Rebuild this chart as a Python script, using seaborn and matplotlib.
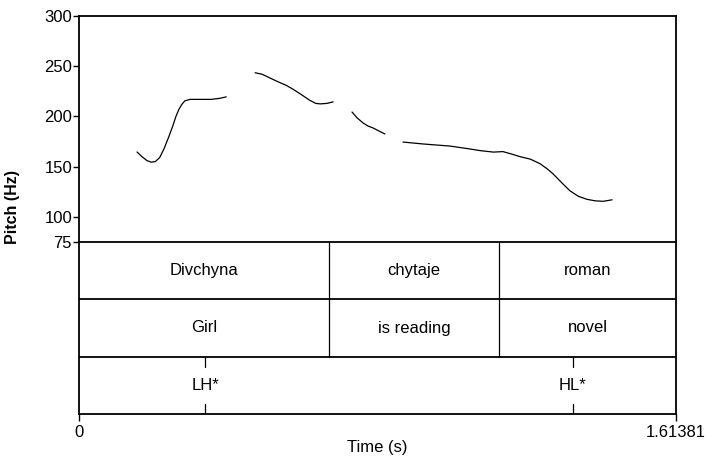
import numpy as np
import pandas as pd
import matplotlib
matplotlib.use("Agg")
import matplotlib.pyplot as plt
import seaborn as sns

sns.set_theme(style="white")
plt.rcParams['font.family'] = ['Liberation Sans', 'DejaVu Sans']
plt.rcParams['text.color'] = 'black'
plt.rcParams['xtick.color'] = 'black'
plt.rcParams['ytick.color'] = 'black'
plt.rcParams['axes.labelcolor'] = 'black'

T_END = 1.61381

# pitch contour segments (time s, Hz)
seg1_t = [0.157, 0.170, 0.184, 0.195, 0.206, 0.218, 0.230, 0.243, 0.254, 0.262, 0.270, 0.278, 0.286, 0.300, 0.327, 0.357, 0.380, 0.398]
seg1_hz = [164.6, 160.0, 156.0, 154.5, 155.0, 159.0, 168.0, 180.0, 191.0, 200.0, 207.0, 212.0, 215.5, 217.0, 217.0, 217.0, 218.0, 219.5]
seg2_t = [0.476, 0.495, 0.515, 0.535, 0.560, 0.579, 0.600, 0.624, 0.640, 0.652, 0.670, 0.687]
seg2_hz = [243.5, 242.0, 238.5, 235.0, 231.0, 227.0, 222.0, 216.0, 213.0, 212.5, 213.0, 214.5]
seg3_t = [0.738, 0.752, 0.768, 0.781, 0.795, 0.811, 0.827]
seg3_hz = [204.4, 198.5, 193.5, 190.5, 188.5, 185.5, 182.5]
seg4_t = [0.876, 0.930, 1.003, 1.050, 1.084, 1.120, 1.146, 1.170, 1.192, 1.220, 1.246, 1.265, 1.281, 1.305, 1.327, 1.350, 1.373, 1.395, 1.417, 1.441]
seg4_hz = [174.5, 172.6, 170.5, 168.0, 166.0, 164.5, 165.0, 162.5, 160.0, 157.5, 153.0, 148.0, 143.0, 134.0, 126.0, 120.5, 117.5, 116.0, 115.5, 117.0]

# tiers
tier1_labels = ["Divchyna", "chytaje", "roman"]
tier2_labels = ["Girl", "is reading", "novel"]
bounds = [0.0, 0.676, 1.135, T_END]
tones = ["LH*", "HL*"]
tone_t = [0.341, 1.335]

y_ticks = [75, 100, 150, 200, 250, 300]

rows = []
for i, (ts, hs) in enumerate([(seg1_t, seg1_hz), (seg2_t, seg2_hz), (seg3_t, seg3_hz), (seg4_t, seg4_hz)]):
    for t, h in zip(ts, hs):
        rows.append({"time": t, "hz": h, "seg": i})
df = pd.DataFrame(rows)

fig = plt.figure(figsize=(7.06, 4.59), dpi=100)
W, H = 706, 459
left, right = 79 / W, 676 / W
ax = fig.add_axes([left, 1 - 242 / H, right - left, (242 - 16) / H])
axt = fig.add_axes([left, 1 - 414 / H, right - left, (414 - 242) / H])

sns.lineplot(data=df, x="time", y="hz", units="seg", estimator=None,
             color="black", lw=0.9, ax=ax, sort=False)
ax.set_xlim(0, T_END)
ax.set_ylim(75, 300)
ax.set_yticks(y_ticks)
ax.set_yticklabels([str(v) for v in y_ticks])
ax.set_xticks([])
ax.set_xlabel("")
ax.set_ylabel("Pitch (Hz)", fontsize=11.5, fontweight="bold")
ax.yaxis.set_label_coords((19.5 - 79) / 597, (242 - 207) / 226)
ax.tick_params(axis="y", direction="out", length=4, width=1, labelsize=12, pad=1, left=True)
for s in ax.spines.values():
    s.set_linewidth(1.3)
    s.set_color("black")
ax.spines["bottom"].set_visible(False)

# tiers
axt.set_xlim(0, T_END)
axt.set_ylim(0, 3)
for y in [1, 2]:
    axt.axhline(y, color="black", lw=1.3)
for b in bounds[1:-1]:
    axt.plot([b, b], [1, 3], color="black", lw=0.9)
for j in range(3):
    c = (bounds[j] + bounds[j + 1]) / 2
    axt.text(c, 2.5, tier1_labels[j], ha="center", va="center", fontsize=12)
    axt.text(c, 1.5, tier2_labels[j], ha="center", va="center", fontsize=12)
for lab, t in zip(tones, tone_t):
    axt.plot([t, t], [0.82, 1.0], color="black", lw=0.9)
    axt.plot([t, t], [0.0, 0.18], color="black", lw=0.9)
    axt.text(t, 0.5, lab, ha="center", va="center", fontsize=12)
axt.set_yticks([])
axt.set_xticks([0, T_END])
axt.set_xticklabels(["0", "1.61381"])
axt.tick_params(axis="x", direction="out", length=5, width=1, labelsize=12, pad=3, bottom=True)
axt.set_xlabel("Time (s)", fontsize=12, labelpad=0)
for s in axt.spines.values():
    s.set_linewidth(1.3)
    s.set_color("black")

fig.savefig("out.png", dpi=100)
